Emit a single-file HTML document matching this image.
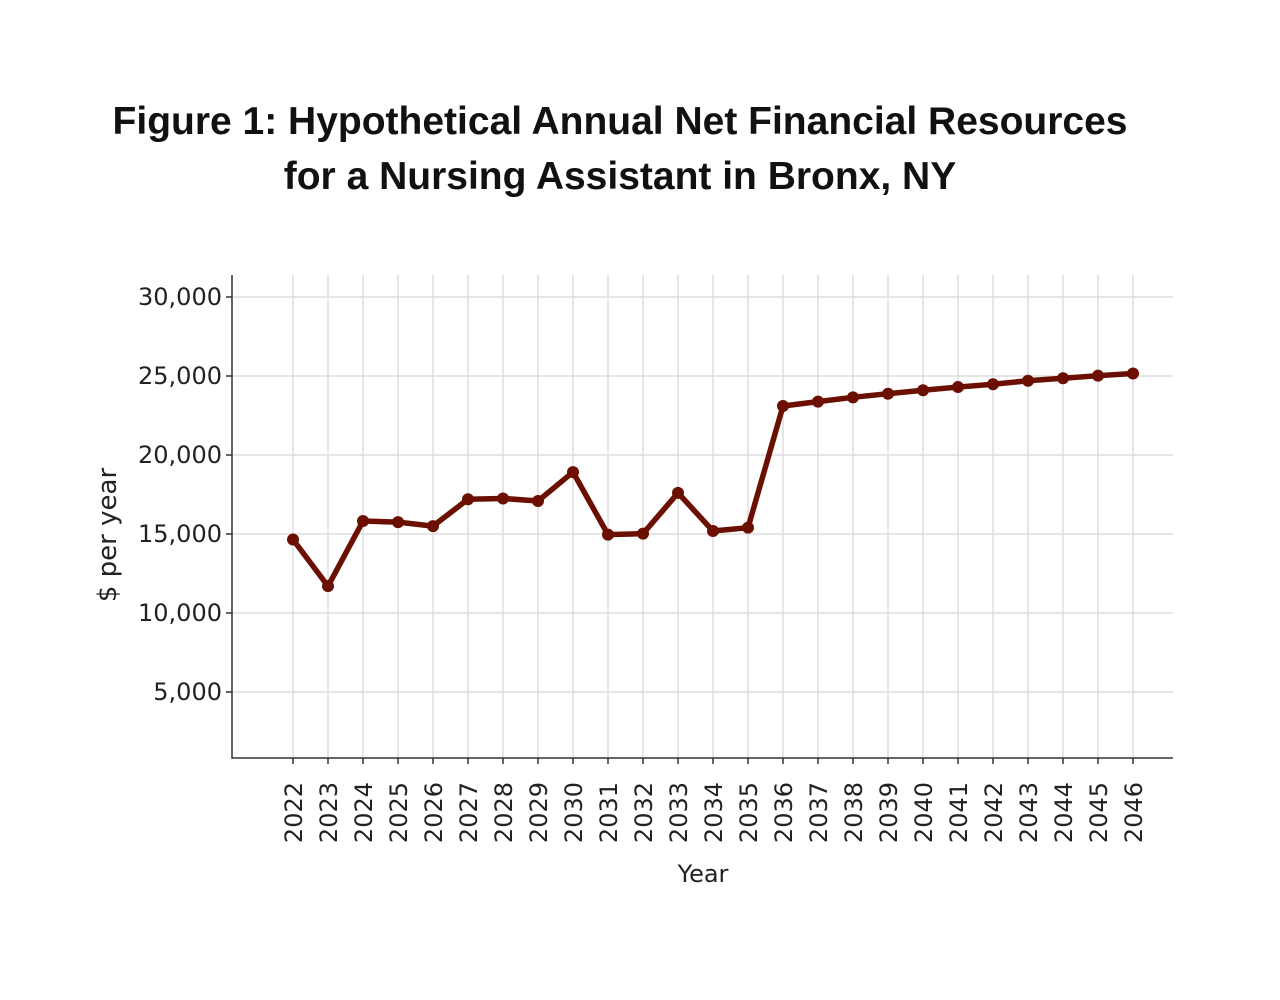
<!DOCTYPE html>
<html><head><meta charset="utf-8"><style>
html,body{margin:0;padding:0;background:#fff;}
body{width:1280px;height:1000px;position:relative;font-family:"Liberation Sans",sans-serif;}
.t{position:absolute;left:0;width:1240px;text-align:center;font-weight:bold;font-size:39px;color:#111;}
</style></head><body>
<div class="t" style="top:100px;">Figure 1: Hypothetical Annual Net Financial Resources</div>
<div class="t" style="top:155px;">for a Nursing Assistant in Bronx, NY</div>
<svg id="chart" width="1280" height="1000" style="position:absolute;left:0;top:0" xmlns="http://www.w3.org/2000/svg"></svg>
<script>
const years=[2022,2023,2024,2025,2026,2027,2028,2029,2030,2031,2032,2033,2034,2035,2036,2037,2038,2039,2040,2041,2042,2043,2044,2045,2046];
const values=[14650,11700,15820,15750,15500,17200,17250,17090,18920,14960,15020,17600,15190,15400,23100,23380,23650,23880,24100,24300,24480,24700,24860,25020,25160];
const yTicks=[5000,10000,15000,20000,25000,30000];
const yTickLabels=["5,000","10,000","15,000","20,000","25,000","30,000"];
const NS="http://www.w3.org/2000/svg";
const svg=document.getElementById('chart');
const L=232,R=1173,T=275,B=758;
const x=yr=>293+(yr-2022)*35;
const y=v=>771-v/5000*79;
function mk(tag,a){const e=document.createElementNS(NS,tag);for(const k in a)e.setAttribute(k,a[k]);svg.appendChild(e);return e;}
yTicks.forEach((t,i)=>{
 const g=mk('line',{x1:L,x2:R,y1:y(t),y2:y(t),stroke:'#ddd','stroke-width':1.5});
 
 
 const tk=mk('line',{x1:L-6,x2:L,y1:y(t),y2:y(t),stroke:'#333','stroke-width':1.5});
 
 
 const tx=mk('text',{x:L-10,y:y(t)+8,'text-anchor':'end','font-size':24,fill:'#222','font-family':'DejaVu Sans, sans-serif'});
 tx.textContent=yTickLabels[i];
 
 
});
years.forEach(yr=>{
 const g=mk('line',{x1:x(yr),x2:x(yr),y1:T,y2:B,stroke:'#ddd','stroke-width':1.5});
 
 
 const tk=mk('line',{x1:x(yr),x2:x(yr),y1:B,y2:B+6,stroke:'#333','stroke-width':1.5});
 
 
 const tx=mk('text',{x:0,y:0,'text-anchor':'end','font-size':24,fill:'#222','font-family':'DejaVu Sans, sans-serif',transform:`translate(${x(yr)+9},${B+24}) rotate(-90)`});
 tx.textContent=yr;
 
 
});
const ax=mk('path',{d:`M${L},${T}V${B}H${R}`,fill:'none',stroke:'#333','stroke-width':1.5});


const pl=mk('polyline',{points:years.map((yr,i)=>x(yr)+','+y(values[i])).join(' '),fill:'none',stroke:'#6b0f00','stroke-width':5.5,'stroke-linejoin':'round'});


years.forEach((yr,i)=>{
 const c=mk('circle',{cx:x(yr),cy:y(values[i]),r:6,fill:'#6b0f00'});
 
 
});
const xt=mk('text',{x:703,y:882,'text-anchor':'middle','font-size':24,fill:'#222','font-family':'DejaVu Sans, sans-serif'});
xt.textContent='Year';


const yt=mk('text',{x:0,y:0,'text-anchor':'middle','font-size':26,fill:'#222','font-family':'DejaVu Sans, sans-serif',transform:'translate(116,535) rotate(-90)'});
yt.textContent='$ per year';


</script>
</body></html>
